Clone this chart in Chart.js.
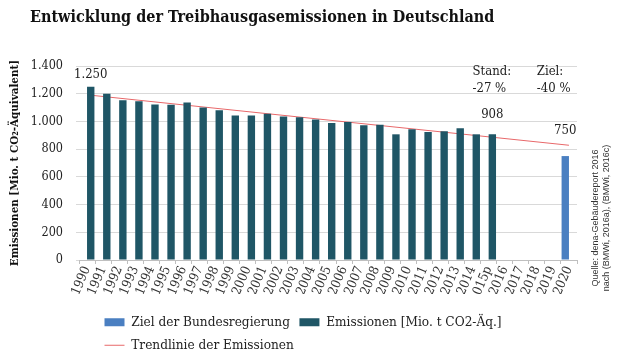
<!DOCTYPE html>
<html>
<head>
<meta charset="utf-8">
<script src="https://cdn.jsdelivr.net/npm/chart.js@4/dist/chart.umd.min.js"></script>
<style>
  html, body { margin: 0; padding: 0; background: #fff; }
  #wrap { width: 620px; height: 350px; }
</style>
</head>
<body>
<div id="wrap"><canvas id="chart"></canvas></div>
<script>
// Treibhausgasemissionen in Deutschland, Mio. t CO2-Äquivalent
const years = ['1990', '1991', '1992', '1993', '1994', '1995', '1996', '1997', '1998', '1999',
  '2000', '2001', '2002', '2003', '2004', '2005', '2006', '2007', '2008', '2009',
  '2010', '2011', '2012', '2013', '2014', '2015p', '2016', '2017', '2018', '2019', '2020']
const emissions = [1250, 1200, 1152, 1145, 1123, 1120, 1137, 1101, 1080, 1043,
  1043, 1055, 1036, 1031, 1014, 988, 995, 973, 976, 907,
  943, 924, 929, 950, 907, 908, null, null, null, null, null]
const target = [null, null, null, null, null, null, null, null, null, null,
  null, null, null, null, null, null, null, null, null, null,
  null, null, null, null, null, null, null, null, null, null, 750]
const trendYears = ['1990', '2020']
const trendValues = [1192, 828]
const yTicks = [0, 200, 400, 600, 800, 1000, 1200, 1400]

// text notes inside the plot: category, value level, text, alignment
const notes = [
  { year: '1990', value: 1339, text: '1.250', align: 'center', bar: 1 },
  { year: '2015p', value: 1051, text: '908', align: 'center', bar: 1 },
  { year: '2020', value: 935, text: '750', align: 'center', bar: 0 },
  { year: '2014', value: 1357, text: 'Stand:', align: 'left' },
  { year: '2014', value: 1240, text: '-27 %', align: 'left' },
  { year: '2018', value: 1357, text: 'Ziel:', align: 'left' },
  { year: '2018', value: 1240, text: '-40 %', align: 'left' }
]
const sourceLines = ['Quelle: dena-Gebäudereport 2016', 'nach (BMWi, 2016a), (BMWi, 2016c)']

const SERIF = "'DejaVu Serif Condensed', 'DejaVu Serif', serif"
const TEAL = '#1f5666'
const BLUE = '#4a7fc1'
const RED = '#e8686a'

const extras = {
  id: 'extras',
  afterLayout(chart) {
    // Excel-style placement: title and legend rows start at a fixed left edge
    chart.titleBlock.left = 30
    chart.legend.left = 95
    chart.legend.top += 12
  },
  afterDatasetsDraw(chart) {
    const ctx = chart.ctx
    const x = chart.scales.x
    const y = chart.scales.y
    ctx.save()
    ctx.fillStyle = '#222'
    ctx.font = '13px ' + SERIF
    ctx.textBaseline = 'middle'
    notes.forEach(n => {
      const i = years.indexOf(n.year)
      let px = x.getPixelForValue(i)
      if (n.bar !== undefined) px = chart.getDatasetMeta(n.bar).data[i].x
      ctx.textAlign = n.align
      ctx.fillText(n.text, px, y.getPixelForValue(n.value))
    })
    // source, rotated at the right edge
    ctx.font = '9px "Liberation Sans", Arial, sans-serif'
    ctx.fillStyle = '#333'
    ctx.textAlign = 'center'
    const cy = (chart.chartArea.top + chart.chartArea.bottom) / 2 + 55
    sourceLines.forEach((line, k) => {
      ctx.save()
      ctx.translate(chart.chartArea.right + 19 + k * 11, cy)
      ctx.rotate(-Math.PI / 2)
      ctx.fillText(line, 0, 0)
      ctx.restore()
    })
    ctx.restore()
  }
}

new Chart(document.getElementById('chart'), {
  type: 'bar',
  data: {
    labels: years,
    datasets: [
      {
        label: 'Ziel der Bundesregierung',
        data: target,
        backgroundColor: BLUE,
        barPercentage: 1,
        categoryPercentage: 0.92
      },
      {
        label: 'Emissionen [Mio. t CO2-Äq.]',
        data: emissions,
        backgroundColor: TEAL,
        barPercentage: 1,
        categoryPercentage: 0.92
      },
      {
        type: 'line',
        label: 'Trendlinie der Emissionen',
        data: trendYears.map((yr, i) => ({ x: yr, y: trendValues[i] })),
        borderColor: RED,
        pointBorderColor: RED,
        borderWidth: 1,
        pointRadius: 0
      }
    ]
  },
  plugins: [extras],
  options: {
    responsive: true,
    maintainAspectRatio: false,
    animation: false,
    locale: 'de-DE',
    layout: { padding: { left: 0, right: 43, top: 0, bottom: 0 } },
    plugins: {
      title: {
        display: true,
        text: 'Entwicklung der Treibhausgasemissionen in Deutschland',
        align: 'start',
        color: '#111',
        font: { family: SERIF, size: 16, weight: 'bold' },
        padding: { top: 8, bottom: 38.8 }
      },
      legend: {
        position: 'bottom',
        align: 'start',
        labels: {
          color: '#222',
          font: { family: SERIF, size: 13.5 },
          usePointStyle: true,
          pointStyleWidth: 20,
          boxHeight: 8,
          padding: 9.5,
          generateLabels(chart) {
            const items = Chart.defaults.plugins.legend.labels.generateLabels(chart)
            items.forEach(it => { it.pointStyle = it.datasetIndex === 2 ? 'line' : 'rect' })
            return items
          }
        }
      },
      tooltip: { enabled: false }
    },
    scales: {
      x: {
        afterFit(scale) { scale.height = 34 },
        grid: { drawOnChartArea: false, color: '#bfbfbf', tickLength: 4 },
        border: { color: '#bfbfbf' },
        ticks: {
          color: '#333',
          font: { family: SERIF, size: 13 },
          minRotation: 67,
          maxRotation: 67,
          autoSkip: false,
          padding: 0
        }
      },
      y: {
        min: 0,
        max: 1400,
        afterFit(scale) { scale.width = 79 },
        afterBuildTicks(scale) { scale.ticks = yTicks.map(v => ({ value: v })) },
        grid: { color: '#d9d9d9', tickLength: 3 },
        border: { display: false },
        ticks: {
          color: '#222',
          font: { family: SERIF, size: 12.5 },
          padding: 13
        },
        title: {
          display: true,
          text: 'Emissionen [Mio. t CO₂-Äquivalent]',
          color: '#111',
          font: { family: SERIF, size: 11.5, weight: 'bold' },
          padding: { top: 8, bottom: 0 }
        }
      }
    }
  }
})
</script>
</body>
</html>
